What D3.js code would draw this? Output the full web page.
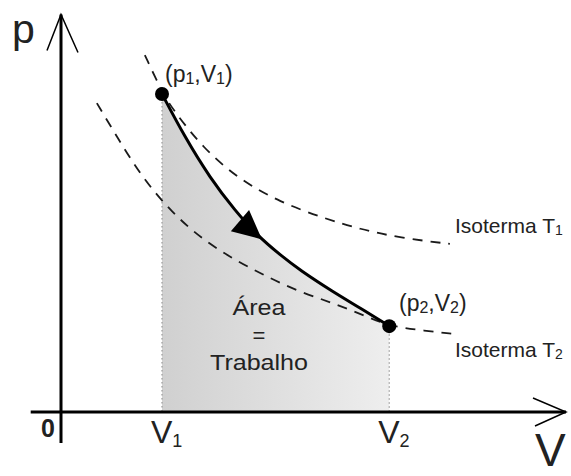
<!DOCTYPE html>
<html>
<head>
<meta charset="utf-8">
<script src="https://cdn.jsdelivr.net/npm/d3@7"></script>
<style>
  body { margin: 0; background: #fff; }
  svg { display: block; font-family: "Liberation Sans", Arial, sans-serif; }
</style>
</head>
<body>
<div id="chart"></div>
<script>
// process curve from (p1,V1) to (p2,V2)
var processV = [2.00, 2.45, 2.95, 3.45, 3.88, 4.34, 4.73, 5.39, 5.92, 6.50];
var processP = [8.00, 6.92, 5.89, 5.06, 4.45, 3.95, 3.57, 3.02, 2.62, 2.16];

// isotherm T1 (upper dashed)
var isoT1V = [1.66, 2.00, 2.22, 2.81, 3.54, 4.34, 5.19, 5.92, 6.71, 7.70];
var isoT1P = [8.98, 8.05, 7.60, 6.64, 5.84, 5.28, 4.88, 4.60, 4.38, 4.23];

// isotherm T2 (lower dashed)
var isoT2V = [0.71, 1.11, 1.60, 2.20, 2.81, 3.45, 4.08, 4.73, 5.39, 5.98, 6.50, 7.11, 7.80];
var isoT2P = [7.77, 6.92, 5.91, 5.01, 4.33, 3.82, 3.40, 3.02, 2.74, 2.44, 2.16, 2.06, 1.96];

var volumeTicks = [2, 6.5];
var volumeTickSubs = ["1", "2"];
var arrowAtV = 3.98;

var width = 571, height = 476;

var svg = d3.select("#chart").append("svg")
    .attr("width", width)
    .attr("height", height);

var X = d3.scaleLinear().domain([0, 10]).range([61, 566]),
    Y = d3.scaleLinear().domain([0, 10]).range([412, 14.5]);

var defs = svg.append("defs");
var grad = defs.append("linearGradient")
    .attr("id", "areaGrad")
    .attr("x1", "0%").attr("x2", "100%").attr("y1", "0%").attr("y2", "0%");
grad.append("stop").attr("offset", "0%").attr("stop-color", "#d0d0d0");
grad.append("stop").attr("offset", "100%").attr("stop-color", "#eeeeee");

var procData = processV.map(function(v, i) { return [v, processP[i]]; });
var t1Data = isoT1V.map(function(v, i) { return [v, isoT1P[i]]; });
var t2Data = isoT2V.map(function(v, i) { return [v, isoT2P[i]]; });

// shaded area under the process curve
var area = d3.area()
    .x(function(d) { return X(d[0]); })
    .y0(Y(0))
    .y1(function(d) { return Y(d[1]); })
    .curve(d3.curveBasis);
svg.append("path")
    .datum(procData)
    .attr("d", area)
    .attr("fill", "url(#areaGrad)");

// dotted verticals at V1, V2
svg.selectAll(".vdot")
    .data([procData[0], procData[procData.length - 1]])
    .enter().append("line")
    .attr("class", "vdot")
    .attr("x1", function(d) { return X(d[0]); })
    .attr("x2", function(d) { return X(d[0]); })
    .attr("y1", function(d) { return Y(d[1]); })
    .attr("y2", Y(0))
    .attr("stroke", "#999")
    .attr("stroke-width", 1.2)
    .attr("stroke-dasharray", "1.5,2.5");

var line = d3.line()
    .x(function(d) { return X(d[0]); })
    .y(function(d) { return Y(d[1]); });

// isotherms
[t1Data, t2Data].forEach(function(data) {
    svg.append("path")
        .datum(data)
        .attr("d", line.curve(d3.curveBasis))
        .attr("fill", "none")
        .attr("stroke", "#1a1a1a")
        .attr("stroke-width", 1.8)
        .attr("stroke-dasharray", "10,8");
});

// process curve
svg.append("path")
    .datum(procData)
    .attr("d", line.curve(d3.curveBasis))
    .attr("fill", "none")
    .attr("stroke", "#000")
    .attr("stroke-width", 3);

// arrowhead along the process curve
(function() {
    var i = d3.bisector(function(d) { return d[0]; }).left(procData, arrowAtV);
    var a = procData[i - 1], b = procData[i];
    var t = (arrowAtV - a[0]) / (b[0] - a[0]);
    var tx = X(a[0] + t * (b[0] - a[0])), ty = Y(a[1] + t * (b[1] - a[1]));
    var dx = X(b[0]) - X(a[0]), dy = Y(b[1]) - Y(a[1]);
    var len = Math.sqrt(dx * dx + dy * dy);
    dx /= len; dy /= len;
    var L = 29, H = 14;
    var bx = tx - dx * L, by = ty - dy * L;
    svg.append("path")
        .attr("d", "M" + tx + "," + ty +
            " L" + (bx - dy * H) + "," + (by + dx * H) +
            " L" + (bx + dy * H) + "," + (by - dx * H) + " Z")
        .attr("fill", "#000");
})();

// end points
svg.selectAll(".pt")
    .data([procData[0], procData[procData.length - 1]])
    .enter().append("circle")
    .attr("class", "pt")
    .attr("cx", function(d) { return X(d[0]); })
    .attr("cy", function(d) { return Y(d[1]); })
    .attr("r", 7)
    .attr("fill", "#000");

// axes
svg.append("line")
    .attr("x1", X(-0.6)).attr("x2", X(10))
    .attr("y1", Y(0)).attr("y2", Y(0))
    .attr("stroke", "#000").attr("stroke-width", 3);
svg.append("line")
    .attr("x1", X(0)).attr("x2", X(0))
    .attr("y1", Y(-0.78)).attr("y2", Y(10))
    .attr("stroke", "#000").attr("stroke-width", 3);

// open arrowheads
svg.append("path")
    .attr("d", "M" + (X(10) - 33) + "," + (Y(0) - 14) + " L" + X(10) + "," + Y(0) +
        " L" + (X(10) - 31) + "," + (Y(0) + 14))
    .attr("fill", "none").attr("stroke", "#000").attr("stroke-width", 1.5);
svg.append("path")
    .attr("d", "M" + (X(0) - 14) + "," + (Y(10) + 36) + " L" + X(0) + "," + Y(10) +
        " L" + (X(0) + 17) + "," + (Y(10) + 38))
    .attr("fill", "none").attr("stroke", "#000").attr("stroke-width", 1.5);

var ink = "#222";

// axis letters
svg.append("text").attr("x", 12).attr("y", 43)
    .attr("font-size", 41).attr("fill", ink).text("p");
svg.append("text").attr("x", 535).attr("y", 466)
    .attr("font-size", 46).attr("fill", ink).text("V");
svg.append("text").attr("x", 41).attr("y", 437)
    .attr("font-size", 25).attr("font-weight", "bold").attr("fill", ink).text("0");

// V tick labels
svg.selectAll(".vtick")
    .data(volumeTicks)
    .enter().append("text")
    .attr("class", "vtick")
    .attr("x", function(d) { return X(d) - 11; })
    .attr("y", 443)
    .attr("font-size", 32)
    .attr("fill", ink)
    .each(function(d, i) {
        var t = d3.select(this);
        t.append("tspan").text("V");
        t.append("tspan").attr("font-size", 18).attr("dy", 4).text(volumeTickSubs[i]);
    });

function pointLabel(x, y, sub) {
    var t = svg.append("text").attr("x", x).attr("y", y)
        .attr("font-size", 23).attr("fill", ink);
    t.append("tspan").text("(p");
    t.append("tspan").attr("font-size", 16).attr("dy", 2).text(sub);
    t.append("tspan").attr("dy", -2).text(",V");
    t.append("tspan").attr("font-size", 16).attr("dy", 2).text(sub);
    t.append("tspan").attr("dy", -2).text(")");
}
pointLabel(165, 82, "1");
pointLabel(399, 311, "2");

function isoLabel(x, y, sub) {
    var t = svg.append("text").attr("x", x).attr("y", y)
        .attr("font-size", 21).attr("fill", ink);
    t.append("tspan").text("Isoterma T");
    t.append("tspan").attr("font-size", 14).attr("dy", 2).text(sub);
}
isoLabel(455, 233, "1");
isoLabel(455, 357, "2");

var areaText = [["Área", 315, 53], ["=", 343, 0], ["Trabalho", 370, 98]];
areaText.forEach(function(d) {
    var t = svg.append("text")
        .attr("x", 259).attr("y", d[1])
        .attr("text-anchor", "middle")
        .attr("font-size", 22).attr("fill", ink)
        .text(d[0]);
    if (d[2]) t.attr("textLength", d[2]).attr("lengthAdjust", "spacingAndGlyphs");
});
</script>
</body>
</html>
